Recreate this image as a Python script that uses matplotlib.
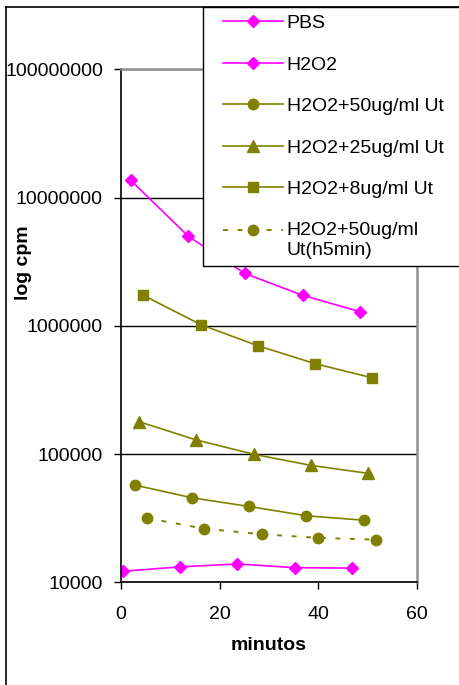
import matplotlib.pyplot as plt
from matplotlib.lines import Line2D
from matplotlib.patches import Rectangle
from matplotlib.legend_handler import HandlerLine2D

plt.rcParams['font.family'] = ['Liberation Sans', 'DejaVu Sans']

# dados (minutos, cpm)
pbs_t = [0.5, 12.0, 23.6, 35.2, 46.9]
pbs = [12200, 13200, 13900, 13000, 12900]

h2o2_t = [2.0, 13.6, 25.1, 36.8, 48.4]
h2o2 = [13600000, 5000000, 2560000, 1730000, 1290000]

ut50_t = [2.8, 14.4, 26.0, 37.6, 49.2]
ut50 = [57300, 45600, 39000, 33000, 30500]

ut25_t = [3.6, 15.2, 26.9, 38.5, 50.1]
ut25 = [179000, 129000, 99600, 81600, 70700]

ut8_t = [4.5, 16.2, 27.7, 39.3, 50.8]
ut8 = [1730000, 1020000, 700000, 507000, 394000]

ut50h_t = [5.3, 16.9, 28.5, 40.0, 51.6]
ut50h = [31600, 26200, 23700, 22200, 21500]

yticks = [10000, 100000, 1000000, 10000000, 100000000]
ytick_labels = ['10000', '100000', '1000000', '10000000', '100000000']
xticks = [0, 20, 40, 60]

magenta = '#FF00FF'
olive = '#808000'


# marcador da legenda alinhado com a primeira linha do texto
class HandlerPrimeiraLinha(HandlerLine2D):
    def create_artists(self, legend, orig_handle, xdescent, ydescent,
                       width, height, fontsize, trans):
        return super().create_artists(legend, orig_handle, xdescent,
                                      ydescent - 15.6, width, height,
                                      fontsize, trans)


fig = plt.figure(figsize=(4.6, 6.85), dpi=100)
ax = fig.add_axes([121 / 460, 1 - 582.3 / 685, 296 / 460, 513 / 685])

ax.plot(pbs_t, pbs, color=magenta, marker='D', ms=6.5, lw=1.2, label='PBS')
ax.plot(h2o2_t, h2o2, color=magenta, marker='D', ms=6.5, lw=1.2, label='H2O2')
ax.plot(ut50_t, ut50, color=olive, marker='o', ms=7.5, lw=1.2,
        label='H2O2+50ug/ml Ut')
ax.plot(ut25_t, ut25, color=olive, marker='^', ms=8, lw=1.2,
        label='H2O2+25ug/ml Ut')
ax.plot(ut8_t, ut8, color=olive, marker='s', ms=7, lw=1.2,
        label='H2O2+8ug/ml Ut')
ultima, = ax.plot(ut50h_t, ut50h, color=olive, marker='o', ms=7.5, lw=1.4,
                  linestyle=(0, (2.5, 5)), label='H2O2+50ug/ml\nUt(h5min)')

ax.set_yscale('log')
ax.set_ylim(10000, 100000000)
ax.set_xlim(0, 60)
ax.set_yticks(yticks)
ax.set_yticklabels(ytick_labels)
ax.minorticks_off()
ax.set_xticks(xticks)
ax.tick_params(axis='both', labelsize=14, direction='out', length=5, width=1)
ax.tick_params(axis='y', pad=8)
ax.tick_params(axis='x', pad=12)
ax.yaxis.grid(True, color='black', lw=1)
ax.set_axisbelow(True)

for s in ['left', 'bottom']:
    ax.spines[s].set_color('black')
    ax.spines[s].set_linewidth(1.2)
for s in ['top', 'right']:
    ax.spines[s].set_color('#909090')
    ax.spines[s].set_linewidth(1.8)

ax.set_xlabel('minutos', fontsize=14, fontweight='bold', labelpad=10)
fig.text(23 / 460, 1 - 263 / 685, 'log cpm', fontsize=14, fontweight='bold',
         rotation=90, ha='center', va='center')

# borda do gráfico
fig.add_artist(Line2D([6 / 460, 6 / 460], [0, 1 - 7 / 685], color='black',
                      lw=1.2, transform=fig.transFigure))
fig.add_artist(Line2D([6 / 460, 1], [1 - 7 / 685, 1 - 7 / 685], color='black',
                      lw=1.2, transform=fig.transFigure))

# caixa da legenda
fig.add_artist(Rectangle((203 / 460, 1 - 266 / 685), 0.6, 259 / 685,
                         transform=fig.transFigure, facecolor='white',
                         edgecolor='black', lw=1.0, zorder=4))

leg = fig.legend(loc='upper left', bbox_to_anchor=(222.7 / 460, 1 - 14.4 / 685),
                 fontsize=14, frameon=False, borderpad=0,
                 handlelength=3.1, handletextpad=0.2, labelspacing=1.23,
                 borderaxespad=0,
                 handler_map={ultima: HandlerPrimeiraLinha()})
leg.set_zorder(5)
leg.get_texts()[-1].set_linespacing(1.25)

fig.savefig('out.png', dpi=100)
